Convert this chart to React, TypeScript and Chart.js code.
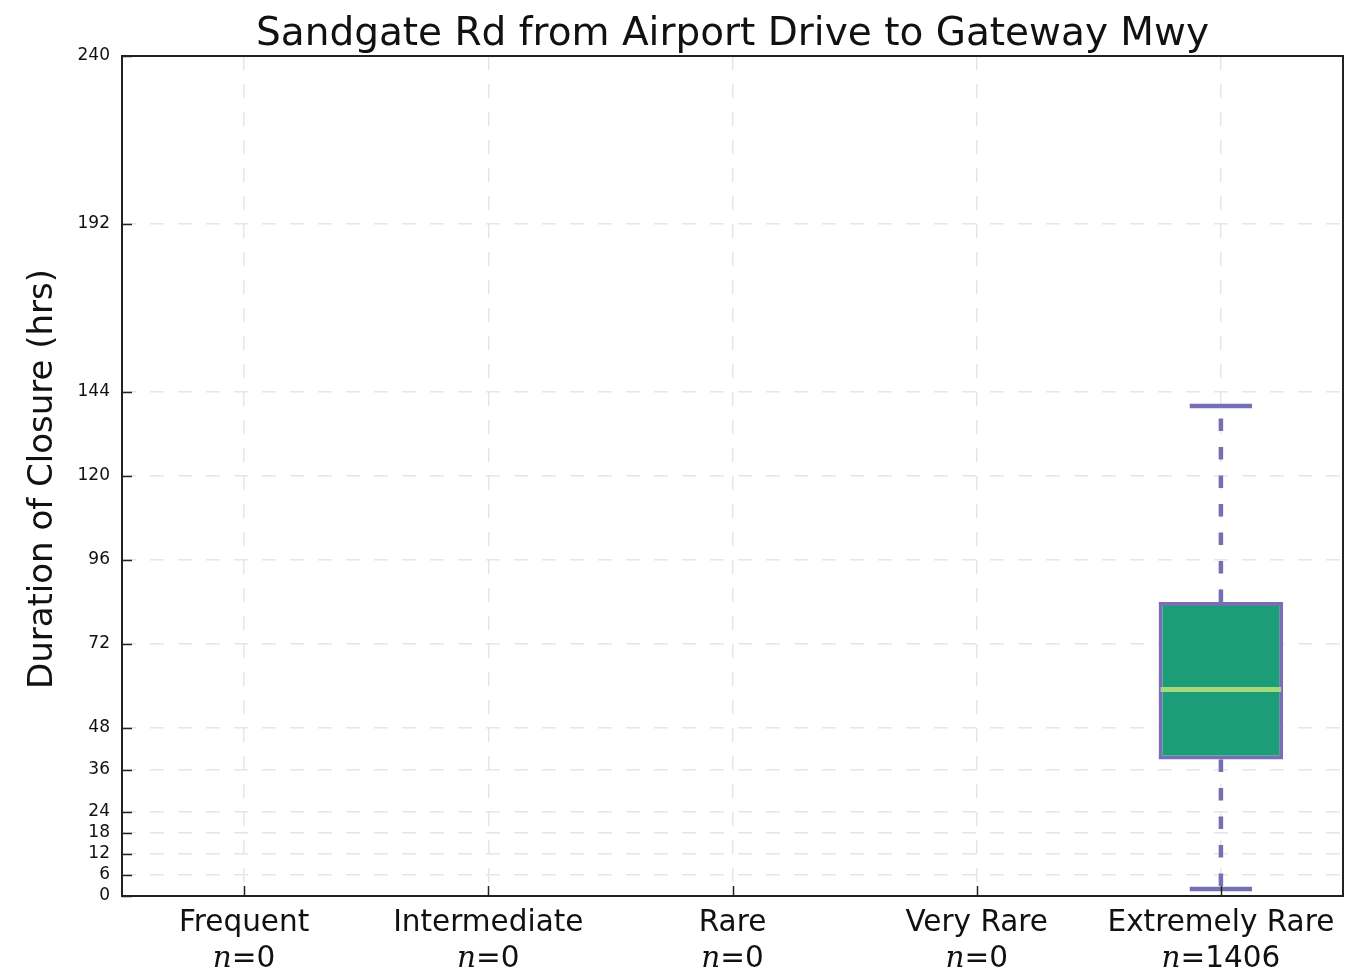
import React, { useEffect, useRef } from "react";
import { Chart, registerables } from "chart.js";

Chart.register(...registerables);

const TITLE = "Sandgate Rd from Airport Drive to Gateway Mwy";
const Y_LABEL = "Duration of Closure (hrs)";
const categories = ["Frequent", "Intermediate", "Rare", "Very Rare", "Extremely Rare"];
const counts = [0, 0, 0, 0, 1406];
const whiskerLow: (number | null)[] = [null, null, null, null, 2];
const q1: (number | null)[] = [null, null, null, null, 39];
const median: (number | null)[] = [null, null, null, null, 59];
const q3: (number | null)[] = [null, null, null, null, 84];
const whiskerHigh: (number | null)[] = [null, null, null, null, 140];
const yTicks = [0, 6, 12, 18, 24, 36, 48, 72, 96, 120, 144, 192, 240];

const BOX_FILL = "#1b9e77";
const BOX_EDGE = "#7570b3";
const MEDIAN_COLOR = "#a6d87c";
const FONT = "DejaVu Sans";

const boxPlugin = {
  id: "boxDecor",
  beforeDatasetsDraw(chart: any) {
    const ctx = chart.ctx;
    const y = chart.scales.y;
    const meta = chart.getDatasetMeta(0);
    ctx.save();
    ctx.strokeStyle = BOX_EDGE;
    ctx.lineWidth = 4.5;
    categories.forEach((_, i) => {
      if (q1[i] == null) return;
      const bar = meta.data[i] as any;
      const x = bar.x;
      const capHalf = bar.width / 4;
      ctx.setLineDash([12.5, 16]);
      ctx.beginPath();
      ctx.moveTo(x, y.getPixelForValue(q3[i]));
      ctx.lineTo(x, y.getPixelForValue(whiskerHigh[i]));
      ctx.stroke();
      ctx.beginPath();
      ctx.moveTo(x, y.getPixelForValue(q1[i]));
      ctx.lineTo(x, y.getPixelForValue(whiskerLow[i]));
      ctx.stroke();
      ctx.setLineDash([]);
      [whiskerHigh[i], whiskerLow[i]].forEach((v) => {
        const py = y.getPixelForValue(v);
        ctx.beginPath();
        ctx.moveTo(x - capHalf, py);
        ctx.lineTo(x + capHalf, py);
        ctx.stroke();
      });
    });
    ctx.restore();
  },
  afterDatasetsDraw(chart: any) {
    const ctx = chart.ctx;
    const y = chart.scales.y;
    const meta = chart.getDatasetMeta(0);
    ctx.save();
    ctx.strokeStyle = MEDIAN_COLOR;
    ctx.lineWidth = 5;
    categories.forEach((_, i) => {
      if (median[i] == null) return;
      const bar = meta.data[i] as any;
      const py = y.getPixelForValue(median[i]);
      ctx.beginPath();
      ctx.moveTo(bar.x - bar.width / 2 + 2, py);
      ctx.lineTo(bar.x + bar.width / 2 - 2, py);
      ctx.stroke();
    });
    ctx.restore();
  },
  afterDraw(chart: any) {
    const ctx = chart.ctx;
    const area = chart.chartArea;
    const xs = chart.scales.x;
    const ys = chart.scales.y;
    ctx.save();
    // inward tick marks
    ctx.strokeStyle = "#222";
    ctx.lineWidth = 1.5;
    yTicks.forEach((v) => {
      const py = Math.round(ys.getPixelForValue(v)) + 0.5;
      ctx.beginPath();
      ctx.moveTo(area.left, py);
      ctx.lineTo(area.left + 10, py);
      ctx.stroke();
    });
    categories.forEach((_, i) => {
      const px = Math.round(xs.getPixelForValue(i)) + 0.5;
      ctx.beginPath();
      ctx.moveTo(px, area.bottom);
      ctx.lineTo(px, area.bottom - 10);
      ctx.stroke();
    });
    // frame
    ctx.strokeStyle = "#222";
    ctx.lineWidth = 2;
    ctx.strokeRect(area.left, area.top, area.right - area.left, area.bottom - area.top);
    // x labels
    ctx.fillStyle = "#111";
    ctx.textBaseline = "alphabetic";
    categories.forEach((c, i) => {
      const px = xs.getPixelForValue(i);
      ctx.font = `29.5px "${FONT}"`;
      ctx.textAlign = "center";
      ctx.fillText(c, px, 931);
      const rest = "=" + counts[i];
      ctx.font = `italic 29.5px "DejaVu Serif"`;
      const wn = ctx.measureText("n").width;
      ctx.font = `29.5px "${FONT}"`;
      const wr = ctx.measureText(rest).width;
      const start = px - (wn + wr) / 2;
      ctx.textAlign = "left";
      ctx.font = `italic 29.5px "DejaVu Serif"`;
      ctx.fillText("n", start, 967);
      ctx.font = `29.5px "${FONT}"`;
      ctx.fillText(rest, start + wn, 967);
    });
    // title
    ctx.textAlign = "center";
    ctx.font = `39px "${FONT}"`;
    ctx.fillText(TITLE, (area.left + area.right) / 2, 45);
    // y title
    ctx.translate(43, (area.top + area.bottom) / 2 + 3);
    ctx.rotate(-Math.PI / 2);
    ctx.textBaseline = "middle";
    ctx.font = `34px "${FONT}"`;
    ctx.fillText(Y_LABEL, 0, 0);
    ctx.restore();
  },
};

export default function App() {
  const ref = useRef<HTMLCanvasElement | null>(null);
  useEffect(() => {
    if (!ref.current) return;
    const boxData = categories.map((_, i) =>
      q1[i] != null && q3[i] != null ? [q1[i] as number, q3[i] as number] : null
    );
    const chart = new Chart(ref.current, {
      type: "bar",
      data: {
        labels: categories,
        datasets: [
          {
            data: boxData as any,
            backgroundColor: BOX_FILL,
            borderColor: BOX_EDGE,
            borderWidth: 4,
            borderSkipped: false,
            barPercentage: 0.51,
            categoryPercentage: 1.0,
          },
        ],
      },
      options: {
        responsive: false,
        animation: false,
        devicePixelRatio: 1,
        layout: { padding: { top: 56, right: 21, left: 0, bottom: 0 } },
        plugins: { legend: { display: false }, tooltip: { enabled: false }, title: { display: false } },
        scales: {
          x: {
            type: "category",
            offset: true,
            grid: { offset: false, color: "#e6e6e6", lineWidth: 1.5, drawTicks: false },
            border: { display: false, dash: [14, 14] },
            ticks: { display: false },
            afterFit: (s: any) => {
              s.height = 81;
            },
          },
          y: {
            type: "linear",
            min: 0,
            max: 240,
            grid: { color: "#e6e6e6", lineWidth: 1.5, drawTicks: false },
            border: { display: false, dash: [14, 14] },
            ticks: { padding: 12, color: "#111", font: { family: FONT, size: 17 } },
            afterBuildTicks: (s: any) => {
              s.ticks = yTicks.map((v) => ({ value: v }));
            },
            afterFit: (s: any) => {
              s.width = 122;
            },
          },
        },
      },
      plugins: [boxPlugin],
    });
    return () => chart.destroy();
  }, []);
  return (
    <div style={{ position: "absolute", left: 0, top: 0, width: 1364, height: 977, background: "#fff" }}>
      <canvas ref={ref} width={1364} height={977} />
    </div>
  );
}
